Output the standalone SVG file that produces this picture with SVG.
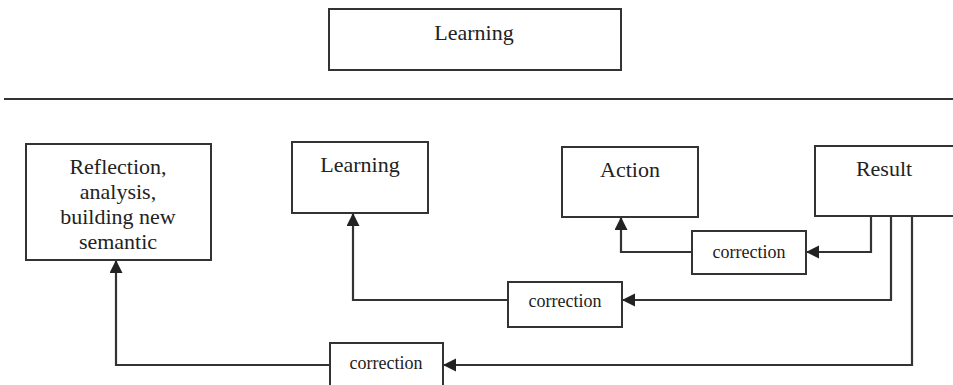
<svg xmlns="http://www.w3.org/2000/svg" width="953" height="385" viewBox="0 0 953 385">
<style>
.box{fill:#fff;stroke:#333;stroke-width:2}
.c{fill:none;stroke:#333;stroke-width:2.2}
</style>
<defs>
<marker id="ah" markerUnits="userSpaceOnUse" markerWidth="14" markerHeight="14" refX="13" refY="6.5" orient="auto">
<path d="M0,0 L13,6.5 L0,13 Z" fill="#222"/>
</marker>
</defs>
<rect width="953" height="385" fill="#fff"/>
<g id="top-learning">
<rect class="box" x="329" y="9" width="292" height="61"/>
<text x="474" y="40" font-family="Liberation Serif, serif" font-size="22" fill="#222" text-anchor="middle">Learning</text>
</g>
<line x1="4" y1="99" x2="953" y2="99" stroke="#333" stroke-width="2"/>
<g id="connectors">
<polyline class="c" points="871,216 871,252 806,252" marker-end="url(#ah)"/>
<polyline class="c" points="692,252 621,252 621,217" marker-end="url(#ah)"/>
<polyline class="c" points="891,216 891,300 622,300" marker-end="url(#ah)"/>
<polyline class="c" points="508,300 353,300 353,213" marker-end="url(#ah)"/>
<polyline class="c" points="912,216 912,365 443,365" marker-end="url(#ah)"/>
<polyline class="c" points="330,365 116,365 116,260" marker-end="url(#ah)"/>
</g>
<g font-family="Liberation Serif, serif" fill="#222" text-anchor="middle" font-size="22">
<g id="reflection">
<rect class="box" x="26" y="144" width="185" height="116"/>
<text x="118" y="174">Reflection,</text>
<text x="118" y="199">analysis,</text>
<text x="118" y="224">building new</text>
<text x="118" y="249">semantic</text>
</g>
<g id="learning">
<rect class="box" x="292" y="142" width="136" height="71"/>
<text x="360" y="172">Learning</text>
</g>
<g id="action">
<rect class="box" x="562" y="147" width="136" height="70"/>
<text x="630" y="177">Action</text>
</g>
<g id="result">
<rect class="box" x="815" y="146" width="142" height="70"/>
<text x="884" y="176">Result</text>
</g>
<g id="correction1">
<rect class="box" x="692" y="231" width="114" height="43"/>
<text x="749" y="258" font-size="18">correction</text>
</g>
<g id="correction2">
<rect class="box" x="508" y="282" width="114" height="45"/>
<text x="565" y="307" font-size="18">correction</text>
</g>
<g id="correction3">
<rect class="box" x="330" y="343" width="113" height="46"/>
<text x="386" y="369" font-size="18">correction</text>
</g>
</g>
</svg>
